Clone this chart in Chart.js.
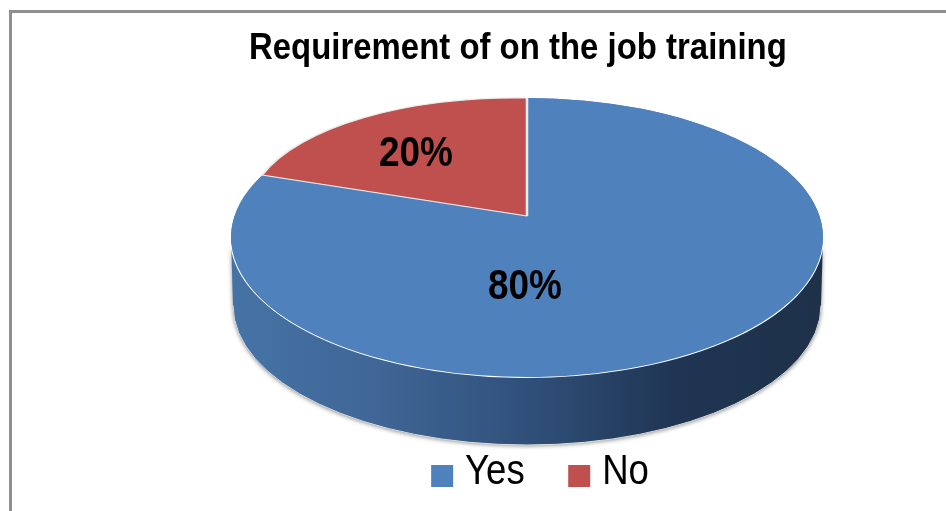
<!DOCTYPE html>
<html>
<head>
<meta charset="utf-8">
<title>Requirement of on the job training</title>
<script src="https://cdn.jsdelivr.net/npm/chart.js@4"></script>
<style>
  html, body { margin: 0; padding: 0; background: #fff; overflow: hidden; }
  #frame { position: absolute; left: 9px; top: 10px; right: 0; bottom: 0; border-left: 3px solid #8f8f8f; border-top: 3px solid #8f8f8f; }
  canvas { position: absolute; left: 0; top: 0; }
</style>
</head>
<body>
<div id="frame"></div>
<canvas id="pieChart" width="946" height="511"></canvas>
<script>
const categories = ["Yes", "No"];
const shares = [80, 20];
const sliceColors = ["#4f81bd", "#c0504d"];
const chartTitle = "Requirement of on the job training";

const FONT = "'Liberation Sans', Arial, sans-serif";

// where the tilted pie sits on the page
const face = { x: 527, y: 237.5, rx: 296, ry: 139.5, depth: 68 };
// the "No" slice is drawn with its own tilt, the apex sits above the ellipse centre
const noFace = { x: 527, y: 216, ux: 278.7, uy: 4.7, vx: 0, vy: 118 };
const labelOffsets = [[-2, 49.5], [-111, -83.5]];

// the reference text is narrower than any installed font, so squeeze it sideways
const titleSqueeze = { x: 249, k: 0.924 };
const legendSqueeze = { x: 540, k: 0.87 };
const labelSqueeze = 0.88;
const swatchSize = 22;
const swatchDrop = 4;

function squeezed(block, s) {
  const draw = block.draw;
  block.draw = function () {
    const ctx = block.ctx;
    ctx.save();
    ctx.transform(s.k, 0, 0, 1, s.x * (1 - s.k), 0);
    draw.call(block);
    ctx.restore();
  };
}

function tiltArc(ctx, arc, i) {
  const r = arc.outerRadius;
  if (i === 0) {
    ctx.transform(face.rx / r, 0, 0, face.ry / r, face.x, face.y);
  } else {
    ctx.transform(noFace.ux / r, noFace.uy / r, noFace.vx / r, noFace.vy / r, noFace.x, noFace.y);
  }
  ctx.translate(-arc.x, -arc.y);
}

const pie3d = {
  id: "pie3d",
  beforeDraw(chart) {
    if (chart.squeezedText) return;
    squeezed(chart.titleBlock, titleSqueeze);
    squeezed(chart.legend, legendSqueeze);
    chart.squeezedText = true;
  },
  beforeDatasetsDraw(chart) {
    const ctx = chart.ctx;
    const bottom = face.y + face.depth;

    // side wall
    const wall = ctx.createLinearGradient(face.x - face.rx, 0, face.x + face.rx, 0);
    wall.addColorStop(0, "#4673a6");
    wall.addColorStop(0.25, "#3f6696");
    wall.addColorStop(0.5, "#30507a");
    wall.addColorStop(0.75, "#1f3553");
    wall.addColorStop(1, "#1e3149");
    ctx.save();
    ctx.shadowColor = "rgba(0,0,0,0.45)";
    ctx.shadowBlur = 4;
    ctx.shadowOffsetY = 1;
    ctx.beginPath();
    ctx.ellipse(face.x, face.y, face.rx, face.ry, 0, 0, Math.PI);
    ctx.ellipse(face.x, bottom, face.rx - 2, face.ry, 0, Math.PI, 0, true);
    ctx.closePath();
    ctx.fillStyle = wall;
    ctx.fill();
    ctx.restore();

    ctx.save();
    ctx.strokeStyle = "#dcdcdc";
    ctx.lineWidth = 1;
    ctx.beginPath();
    ctx.ellipse(face.x, bottom, face.rx - 2, face.ry, 0, 0, Math.PI);
    ctx.stroke();
    ctx.restore();

    // top face backing, fills the gap left under the re-tilted slice
    ctx.save();
    ctx.fillStyle = sliceColors[0];
    ctx.beginPath();
    ctx.ellipse(face.x, face.y, face.rx, face.ry, 0, 0, Math.PI * 2);
    ctx.fill();
    ctx.strokeStyle = "#fff";
    ctx.lineWidth = 2;
    ctx.beginPath();
    ctx.ellipse(face.x, face.y, face.rx, face.ry, 0, 0.05, Math.PI - 0.05);
    ctx.stroke();
    ctx.restore();

    chart.getDatasetMeta(0).data.forEach((arc, i) => {
      if (arc.tilted) return;
      const draw = arc.draw;
      arc.draw = function (c, area) {
        c.save();
        tiltArc(c, arc, i);
        draw.call(arc, c, area);
        c.restore();
      };
      arc.tilted = true;
    });
  },
  afterDatasetsDraw(chart) {
    const ctx = chart.ctx;
    ctx.save();
    ctx.font = "bold 42px " + FONT;
    ctx.fillStyle = "#000";
    ctx.textAlign = "center";
    ctx.textBaseline = "middle";
    shares.forEach((v, i) => {
      ctx.save();
      ctx.translate(face.x + labelOffsets[i][0], face.y + labelOffsets[i][1]);
      ctx.scale(labelSqueeze, 1);
      ctx.fillText(v + "%", 0, 0);
      ctx.restore();
    });
    ctx.restore();
  },
  afterDraw(chart) {
    // legend swatches sit lower than the text middle, which the built-in legend can't do
    const ctx = chart.ctx;
    ctx.save();
    chart.legend.legendHitBoxes.forEach((box, i) => {
      const left = legendSqueeze.x + (box.left - legendSqueeze.x) * legendSqueeze.k;
      const top = box.top + box.height / 2 - swatchSize / 2 + swatchDrop;
      ctx.fillStyle = sliceColors[i];
      ctx.fillRect(left, top, swatchSize, swatchSize);
    });
    ctx.restore();
  }
};

new Chart(document.getElementById("pieChart").getContext("2d"), {
  type: "pie",
  data: {
    labels: categories,
    datasets: [
      {
        data: shares,
        backgroundColor: sliceColors,
        borderColor: ["rgba(0,0,0,0)", "#ececec"],
        borderWidth: [0, 1.5]
      }
    ]
  },
  options: {
    responsive: false,
    animation: false,
    layout: { padding: { left: 249, right: 115, top: 27, bottom: 8 } },
    plugins: {
      tooltip: { enabled: false },
      title: {
        display: true,
        text: chartTitle,
        align: "start",
        color: "#000",
        font: { family: FONT, size: 37, weight: "bold" },
        padding: 0
      },
      legend: {
        position: "bottom",
        labels: {
          color: "#000",
          font: { family: FONT, size: 42 },
          boxWidth: 18,
          boxHeight: 8,
          padding: 50,
          generateLabels() {
            return categories.map((name, i) => ({
              text: name,
              fillStyle: "rgba(0,0,0,0)",
              strokeStyle: "rgba(0,0,0,0)",
              lineWidth: 0,
              index: i
            }));
          }
        }
      }
    }
  },
  plugins: [pie3d]
});
</script>
</body>
</html>
